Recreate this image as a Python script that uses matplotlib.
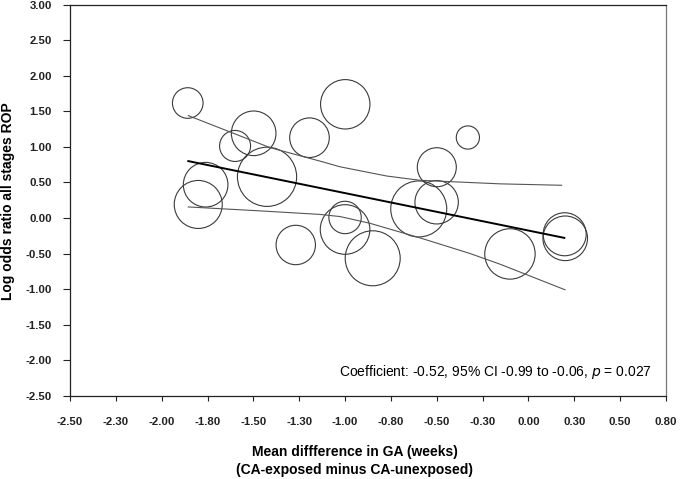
import numpy as np
import matplotlib
matplotlib.use("Agg")
import matplotlib.pyplot as plt

plt.rcParams['font.family'] = ['Liberation Sans', 'DejaVu Sans']

# dados (diferenca media em IG x log odds ratio)
ga_diff = [-1.848, -1.586, -1.483, -1.174, -1.409, -1.749, -1.790, -0.976,
           -0.297, -0.469, -0.569, -0.470, -0.977, -0.977, -0.824, -1.250,
           -0.064, 0.239, 0.242]
log_or = [1.617, 1.013, 1.191, 1.129, 0.579, 0.468, 0.190, 1.599,
          1.132, 0.714, 0.127, 0.221, 0.007, -0.162, -0.567, -0.380,
          -0.506, -0.229, -0.286]
peso = [15.3, 15.5, 22.3, 19.8, 29.6, 22.3, 24.0, 24.7,
        11.6, 19.5, 28.0, 21.7, 16.2, 24.8, 27.5, 19.7,
        25.2, 21.5, 22.3]   # peso de cada estudo (tamanho da bolha)

# reta de regressao e intervalo de confianca
fit_x = [-1.845, 0.237]
fit_y = [0.80, -0.28]
ic_sup_x = [-1.845, -1.393, -1.116, -1.005, -0.746, -0.562, -0.119, 0.222]
ic_sup_y = [1.44, 0.99, 0.80, 0.72, 0.59, 0.53, 0.48, 0.46]
ic_inf_x = [-1.845, -1.448, -1.116, -1.005, -0.839, -0.562, -0.285, -0.119, 0.241]
ic_inf_y = [0.155, 0.10, 0.05, 0.02, -0.075, -0.28, -0.50, -0.65, -1.01]

xrotulos = ['-2.50', '-2.30', '-2.00', '-1.80', '-1.50', '-1.30', '-1.00',
            '-0.80', '-0.50', '-0.30', '0.00', '0.30', '0.50', '0.80']
yticks = np.arange(-2.5, 3.01, 0.5)

fig = plt.figure(figsize=(6.8, 4.79), dpi=100)
ax = fig.add_axes([70/680, 1 - 395.7/479, 596/680, 391/479])

s = (1.44*np.array(peso))**2
ax.scatter(ga_diff, log_or, s=s, facecolors='none', edgecolors='#3a3a3a',
           linewidths=0.8, zorder=2)

ax.plot(ic_sup_x, ic_sup_y, color='#555555', lw=0.8, zorder=3)
ax.plot(ic_inf_x, ic_inf_y, color='#555555', lw=0.8, zorder=3)
ax.plot(fit_x, fit_y, color='black', lw=1.4, zorder=4)

ax.set_xlim(-2.5, 0.8)
ax.set_ylim(-2.5, 3.0)
ax.set_xticks(np.linspace(-2.5, 0.8, 14))
ax.set_xticklabels(xrotulos)
ax.set_yticks(yticks)
ax.set_yticklabels(['%.2f' % v for v in yticks])

for lab in ax.get_xticklabels() + ax.get_yticklabels():
    lab.set_fontweight('bold')
    lab.set_fontsize(8.2)
ax.tick_params(axis='x', direction='out', length=3.5, width=0.8, pad=12, colors='#222222')
ax.tick_params(axis='y', direction='out', length=5, width=0.8, pad=8, colors='#222222')
for sp in ax.spines.values():
    sp.set_linewidth(0.9)
    sp.set_color('#222222')
ax.spines['right'].set_color('#777777')

fig.text(8/680, 1 - 201/479, 'Log odds ratio all stages ROP', rotation=90,
         ha='center', va='center', fontsize=10, fontweight='bold')
fig.text(355/680, 1 - 451.7/479, 'Mean diffference in GA (weeks)', ha='center', va='center',
         fontsize=10, fontweight='bold')
fig.text(355/680, 1 - 470/479, '(CA-exposed minus CA-unexposed)', ha='center', va='center',
         fontsize=10, fontweight='bold')

ax.text(0.9765, 0.061, 'Coefficient: -0.52, 95% CI -0.99 to -0.06, $\\it{p}$ = 0.027',
        transform=ax.transAxes, ha='right', va='center', fontsize=10)

fig.savefig('out.png', dpi=100)
